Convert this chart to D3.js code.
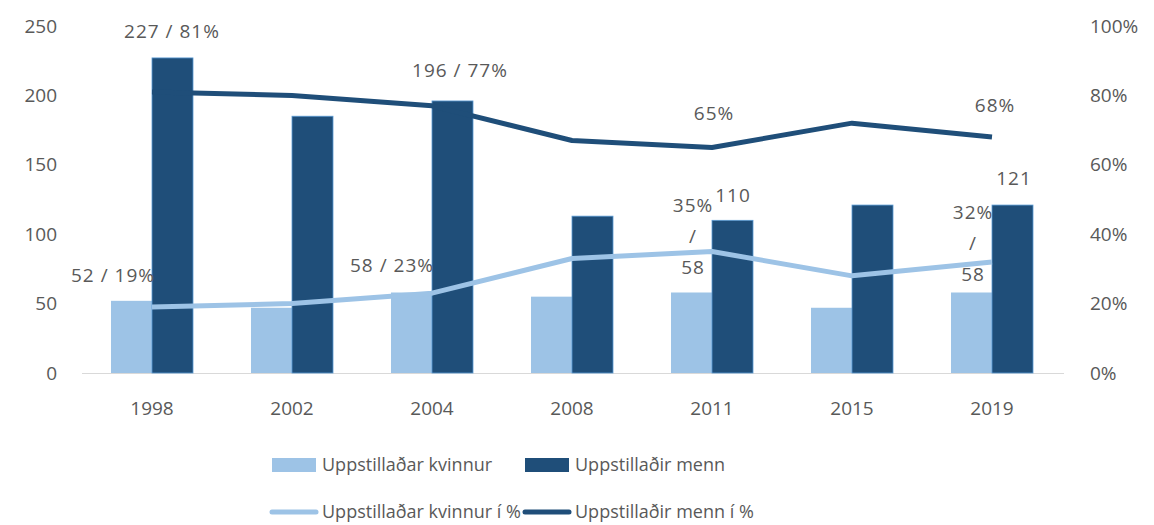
<!DOCTYPE html>
<html><head><meta charset="utf-8">
<script src="https://cdn.jsdelivr.net/npm/d3@7"></script>
<style>body{margin:0;background:#fff}text{font-family:"Open Sans",sans-serif;fill:#595959}</style>
</head><body><svg id="c" width="1154" height="525"></svg>
<script>
const categories = ["1998","2002","2004","2008","2011","2015","2019"];
const women = [52,47,58,55,58,47,58];
const men = [227,185,196,113,110,121,121];
const womenPct = [0.19,0.20,0.23,0.33,0.35,0.28,0.32];
const menPct = [0.81,0.80,0.77,0.67,0.65,0.72,0.68];
const leftTicks = [0,50,100,150,200,250];
const rightTicks = [0,0.2,0.4,0.6,0.8,1];
const seriesNames = ["Uppstillaðar kvinnur","Uppstillaðir menn","Uppstillaðar kvinnur í %","Uppstillaðir menn í %"];
// label annotations: [category index, lines, anchor dx, dy]
const labels = [
  {i:0, lines:["227 / 81%"], x:20, y:38},
  {i:2, lines:["196 / 77%"], x:28, y:77},
  {i:4, lines:["65%"], x:2, y:120},
  {i:6, lines:["68%"], x:3, y:112},
  {i:6, lines:["121"], x:22, y:185},
  {i:4, lines:["110"], x:21, y:202},
  {i:4, lines:["35%","/","58"], x:-19, y:212},
  {i:6, lines:["32%","/","58"], x:-19, y:219},
  {i:0, lines:["52 / 19%"], x:-39, y:282},
  {i:2, lines:["58 / 23%"], x:-40, y:272}
];
const LIGHT="#9dc3e6", DARK="#1f4e79";
const svg=d3.select("#c");
const x=d3.scaleBand().domain(categories).range([82,1062]).paddingInner(0).paddingOuter(0);
const xs=d3.scaleBand().domain(["w","m"]).range([0,x.bandwidth()]).paddingInner(0).paddingOuter(0.707);
const y=d3.scaleLinear().domain([0,250]).range([373,26]);
const y2=d3.scaleLinear().domain([0,1]).range([373,26]);
const cx=c=>x(c)+x.bandwidth()/2;

// left axis labels
svg.append("g").selectAll("text").data(leftTicks).join("text")
  .attr("x",57).attr("y",d=>y(d)).attr("dy","0.35em").attr("text-anchor","end")
  .attr("font-size",19).text(d=>d);
svg.append("g").selectAll("text").data(rightTicks).join("text")
  .attr("x",1090).attr("y",d=>y2(d)).attr("dy","0.35em").attr("text-anchor","start")
  .attr("font-size",19).text(d=>d3.format(".0%")(d));
// x axis
svg.append("line").attr("x1",82).attr("x2",1064).attr("y1",y(0)+0.5).attr("y2",y(0)+0.5).attr("stroke","#d9d9d9").attr("stroke-width",1);
svg.append("g").selectAll("text").data(categories).join("text")
  .attr("x",d=>cx(d)).attr("y",408).attr("dy","0.35em").attr("text-anchor","middle")
  .attr("font-size",19).text(d=>d);

// bars
svg.append("g").selectAll("rect").data(categories).join("rect")
  .attr("x",c=>x(c)+xs("w")).attr("width",xs.bandwidth())
  .attr("y",(c,i)=>y(women[i])).attr("height",(c,i)=>y(0)-y(women[i])).attr("fill",LIGHT);
svg.append("g").selectAll("rect").data(categories).join("rect")
  .attr("x",c=>x(c)+xs("m")).attr("width",xs.bandwidth())
  .attr("y",(c,i)=>y(men[i])).attr("height",(c,i)=>y(0)-y(men[i])).attr("fill",DARK)
  .attr("stroke","#5b9bd5").attr("stroke-width",0.8);

// lines
const line=d3.line().x(d=>cx(d[0])).y(d=>y2(d[1]));
svg.append("path").datum(categories.map((c,i)=>[c,womenPct[i]])).attr("d",line)
  .attr("fill","none").attr("stroke",LIGHT).attr("stroke-width",5).attr("stroke-linejoin","round");
svg.append("path").datum(categories.map((c,i)=>[c,menPct[i]])).attr("d",line)
  .attr("fill","none").attr("stroke",DARK).attr("stroke-width",5).attr("stroke-linejoin","round");

// data labels
const lg=svg.append("g");
labels.forEach(l=>{
  const t=lg.append("text").attr("text-anchor","middle").attr("font-size",19).attr("letter-spacing",1)
    .attr("x",cx(categories[l.i])+l.x).attr("y",l.y);
  l.lines.forEach((s,k)=>t.append("tspan").attr("x",cx(categories[l.i])+l.x).attr("dy",k?31:0).text(s));
});

// legend
const leg=svg.append("g");
const legItems=[
  {name:seriesNames[0],type:"rect",col:LIGHT,x:272,y:465},
  {name:seriesNames[1],type:"rect",col:DARK,x:525,y:465},
  {name:seriesNames[2],type:"line",col:LIGHT,x:272,y:512},
  {name:seriesNames[3],type:"line",col:DARK,x:525,y:512}
];
legItems.forEach(d=>{
  if(d.type==="rect") leg.append("rect").attr("x",d.x).attr("y",d.y-7).attr("width",44).attr("height",14).attr("fill",d.col);
  else leg.append("line").attr("x1",d.x).attr("x2",d.x+44).attr("y1",d.y).attr("y2",d.y).attr("stroke",d.col).attr("stroke-width",5).attr("stroke-linecap","round");
  leg.append("text").attr("x",d.x+50).attr("y",d.y).attr("dy","0.35em").attr("font-size",18).text(d.name);
});
</script></body></html>
